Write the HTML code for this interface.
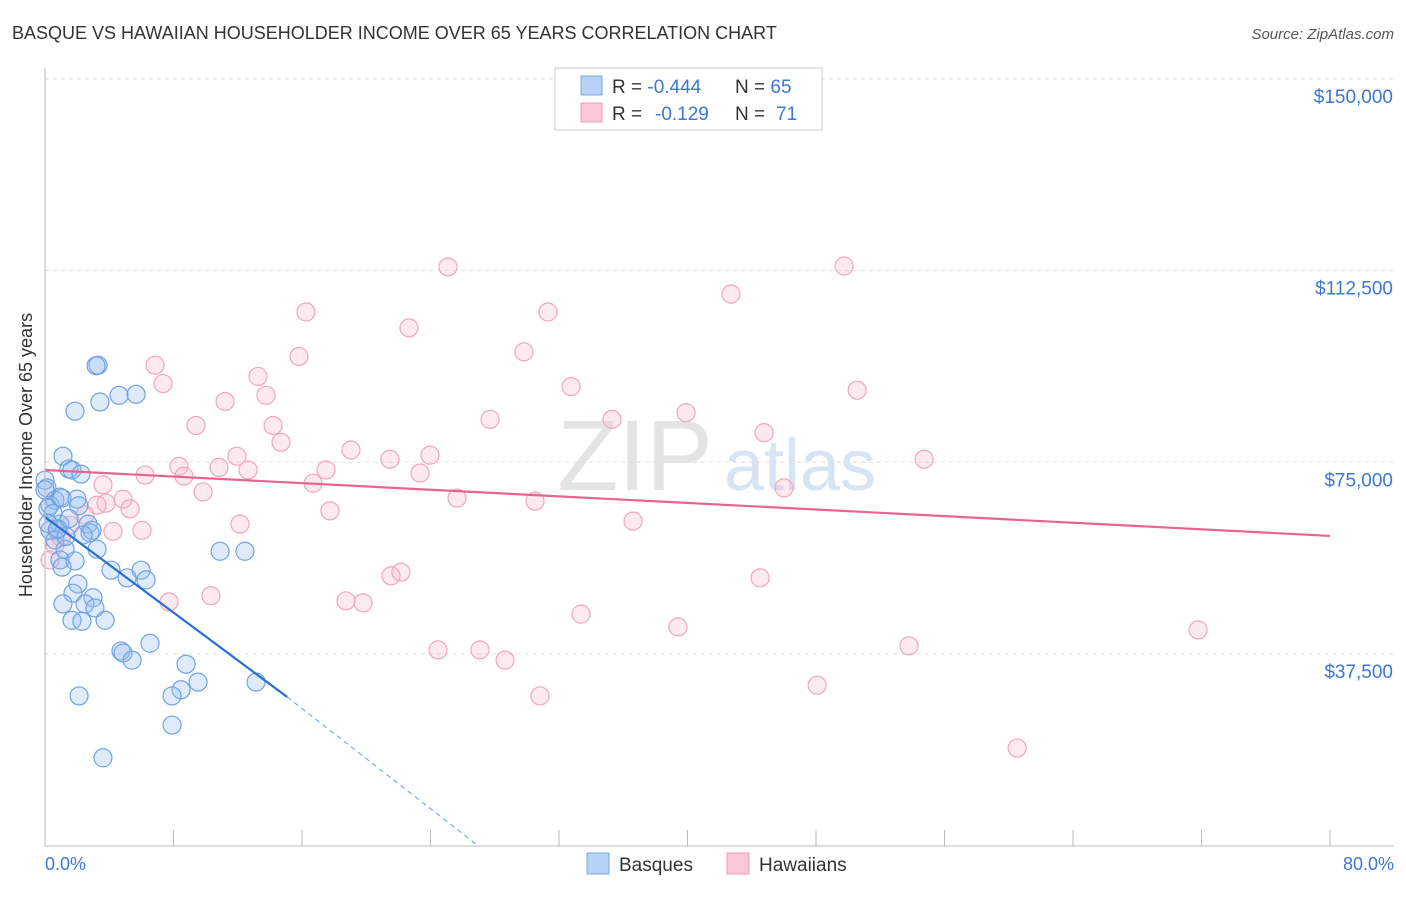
<!DOCTYPE html>
<html><head><meta charset="utf-8"><style>
body{margin:0;background:#fff;font-family:"Liberation Sans",sans-serif;}
svg text{font-family:"Liberation Sans",sans-serif;}
</style></head><body>
<svg id="chart" width="1406" height="892" xmlns="http://www.w3.org/2000/svg">
<text x="12" y="39" font-size="18" fill="#333">BASQUE VS HAWAIIAN HOUSEHOLDER INCOME OVER 65 YEARS CORRELATION CHART</text>
<text x="1394" y="39" font-size="15" fill="#555" text-anchor="end" font-style="italic">Source: ZipAtlas.com</text>
<text x="32" y="455" font-size="18" fill="#333" text-anchor="middle" transform="rotate(-90 32 455)">Householder Income Over 65 years</text>
<text x="635" y="490" font-size="100" fill="#e4e4e4" text-anchor="middle" font-family="Liberation Serif">ZIP</text>
<text x="800" y="490" font-size="72" fill="#d6e4f4" text-anchor="middle">atlas</text>
<g id="grid"></g><g id="ticks"></g><g id="pts"></g><g id="trend"></g>
<line x1="45" y1="68" x2="45" y2="846" stroke="#bbb"/>
<line x1="45" y1="846" x2="1394" y2="846" stroke="#bbb"/>
<text x="45" y="870" font-size="18" fill="#3b78d8">0.0%</text>
<text x="1394" y="870" font-size="18" fill="#3b78d8" text-anchor="end">80.0%</text>
<g>
<rect x="555" y="68" width="267" height="62" fill="#fff" stroke="#ccc"/>
<rect x="581" y="76" width="21" height="19" fill="#b7d2f5" stroke="#7aa7e6"/>
<rect x="581" y="103" width="21" height="19" fill="#fbc8d7" stroke="#f09ab4"/>
<text x="612" y="93" font-size="19" fill="#333">R = <tspan fill="#3b78d8">-0.444</tspan><tspan x="735">N = </tspan><tspan fill="#3b78d8">65</tspan></text>
<text x="612" y="120" font-size="19" fill="#333">R = <tspan fill="#3b78d8" x="655">-0.129</tspan><tspan x="735">N = </tspan><tspan fill="#3b78d8" x="776">71</tspan></text>
</g>
<g>
<rect x="587" y="853" width="22" height="21" fill="#b7d2f5" stroke="#7aa7e6"/>
<text x="619" y="871" font-size="19" fill="#333">Basques</text>
<rect x="727" y="853" width="22" height="21" fill="#fbc8d7" stroke="#f09ab4"/>
<text x="759" y="871" font-size="19" fill="#333">Hawaiians</text>
</g>
</svg>
<script>
const yTicks=[37500,75000,112500,150000];
const yTickLabels=["$37,500","$75,000","$112,500","$150,000"];
const xTicks=[0,8,16,24,32,40,48,56,64,72,80];
const basqueX=[3.30,1.87,3.42,4.61,5.67,1.12,1.49,1.68,2.24,0,0.12,0.31,0.62,0.93,1.06,1.99,2.68,0.93,0.75,2.80,2.93,2.37,3.24,1.25,0.93,1.87,1.06,10.9,12.45,4.11,5.98,5.11,6.29,2.05,1.74,2.99,2.49,1.12,3.11,1.68,2.30,3.74,4.73,4.86,5.42,6.54,8.78,8.47,7.91,9.53,13.14,2.12,7.91,3.61,0,0.19,0.31,0.62,3.18,0.5,0.2,1.3,2.1,0.8,1.5];
const basqueY=[94.0,85.0,86.8,88.1,88.3,76.2,73.7,73.5,72.7,71.5,70.0,66.6,67.6,68.2,68.0,67.8,62.9,62.9,61.7,61.2,61.7,60.8,58.0,58.0,55.9,55.7,54.5,57.6,57.6,53.9,53.9,52.4,52.0,51.2,49.4,48.5,47.3,47.3,46.5,44.1,43.9,44.1,38.1,37.7,36.3,39.6,35.5,30.5,29.3,32.0,32.0,29.3,23.6,17.2,69.6,66.0,61.7,59.8,93.9,65.0,63.0,60.5,66.5,62.0,64.0];
const hawaiiX=[25.09,49.75,16.25,31.32,42.71,22.66,15.81,29.82,6.85,7.35,13.26,32.75,13.76,50.56,11.21,9.40,27.71,35.30,39.91,14.20,44.77,14.69,19.05,21.48,23.97,54.73,8.34,11.95,10.83,12.64,8.65,6.23,17.50,16.69,23.35,9.84,3.61,46.01,25.65,30.51,4.86,3.80,3.24,5.29,17.74,2.49,12.14,1.56,36.61,6.04,4.23,1.00,0.62,0.31,22.16,21.54,44.52,10.33,7.72,18.74,19.80,33.37,39.41,71.79,53.79,24.47,27.08,28.64,48.07,30.82,60.52];
const hawaiiY=[113.2,113.4,104.4,104.4,107.9,101.3,95.7,96.6,94.0,90.4,91.8,89.8,88.1,89.1,86.9,82.2,83.4,83.4,84.7,82.2,80.8,78.9,77.4,75.6,76.4,75.6,74.2,76.2,74.0,73.5,72.3,72.5,73.5,70.9,72.9,69.2,70.6,70.0,68.0,67.4,67.8,67.0,66.6,65.9,65.5,64.7,62.9,62.7,63.5,61.7,61.5,60.3,58.8,55.9,53.5,52.8,52.4,48.9,47.7,47.9,47.5,45.3,42.8,42.2,39.1,38.3,38.3,36.3,31.4,29.3,19.1];
const basqueTrend=[[0,64.3],[15.07,29.1]];
const basqueTrendExt=[[15.07,29.1],[26.96,0]];
const hawaiiTrend=[[0,73.5],[80,60.6]];
const NS="http://www.w3.org/2000/svg";
const sx=v=>45+v/80*1285;
const sy=v=>845.7-v/37.5*191.7;
function mk(tag,attrs,parent){const e=document.createElementNS(NS,tag);for(const k in attrs)e.setAttribute(k,attrs[k]);parent.appendChild(e);return e;}
const grid=document.getElementById('grid');
yTicks.forEach((t,i)=>{const y=sy(t/1000);
const l=mk('line',{x1:45,x2:1394,y1:y,y2:y,stroke:'#ddd','stroke-dasharray':'4 4'},grid);


const tx=mk('text',{x:1393,y:y+24,'font-size':19,fill:'#3b78d8','text-anchor':'end'},grid);tx.textContent=yTickLabels[i];

});
const tk=document.getElementById('ticks');
xTicks.forEach(t=>{const x=sx(t);const l=mk('line',{x1:x,x2:x,y1:830,y2:846,stroke:'#bbb'},tk);

});
const pts=document.getElementById('pts');
hawaiiX.forEach((v,i)=>{const c=mk('circle',{cx:sx(v),cy:sy(hawaiiY[i]),r:9,fill:'rgba(248,170,195,0.25)',stroke:'#f2a6be','stroke-width':1.2},pts);

});
basqueX.forEach((v,i)=>{const c=mk('circle',{cx:sx(v),cy:sy(basqueY[i]),r:9,fill:'rgba(150,190,240,0.3)',stroke:'#6fa2e4','stroke-width':1.2},pts);

});
const tr=document.getElementById('trend');
function line(p,st,w,dash,name){const l=mk('line',{x1:sx(p[0][0]),y1:sy(p[0][1]),x2:sx(p[1][0]),y2:sy(p[1][1]),stroke:st,'stroke-width':w},tr);if(dash)l.setAttribute('stroke-dasharray',dash);

}
line(hawaiiTrend,'#e8648f',2.2,null,'hawaiian-trendline');
line(basqueTrend,'#2a6fd6',2.2,null,'basque-trendline');
line(basqueTrendExt,'#6a9be0',1,'5 4','basque-trendline-extension');
</script>
</body></html>
